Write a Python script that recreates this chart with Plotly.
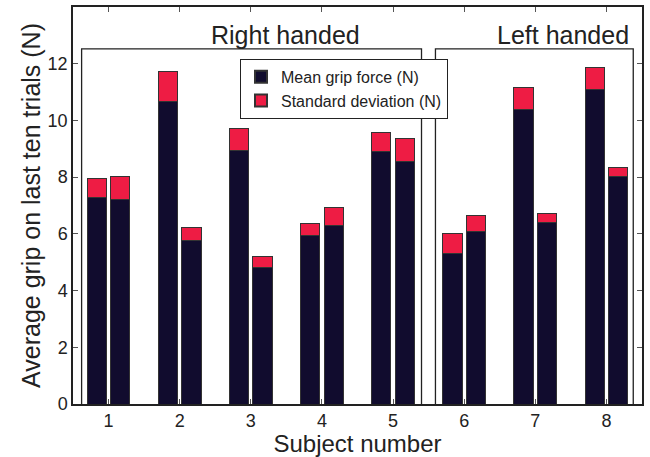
import plotly.graph_objects as go

subjects = [1, 2, 3, 4, 5, 6, 7, 8]
mean_a = [7.27, 10.66, 8.93, 5.93, 8.89, 5.30, 10.39, 11.10]
total_a = [7.96, 11.71, 9.70, 6.37, 9.59, 6.03, 11.16, 11.88]
mean_b = [7.20, 5.78, 4.81, 6.31, 8.55, 6.07, 6.39, 8.02]
total_b = [8.02, 6.21, 5.19, 6.94, 9.35, 6.63, 6.72, 8.33]
tick_labels = ["1", "2", "3", "4", "5", "6", "7", "8"]

NAVY = "#110c2e"
RED = "#ee1c44"
FONT = "Liberation Sans, Arial, sans-serif"

off = 0.165
bw = 0.27
xs = [s - off for s in subjects] + [s + off for s in subjects]
means = mean_a + mean_b
sds = [t - m for t, m in zip(total_a, mean_a)] + [t - m for t, m in zip(total_b, mean_b)]

fig = go.Figure()
fig.add_trace(go.Bar(x=xs, y=means, width=bw, name="Mean grip force (N)",
                     marker=dict(color=NAVY, line=dict(color="#333333", width=1))))
fig.add_trace(go.Bar(x=xs, y=sds, width=bw, name="Standard deviation (N)",
                     marker=dict(color=RED, line=dict(color="#333333", width=1))))

# group boxes
box_top = 12.52
fig.add_shape(type="path", path=f"M 0.621 0 L 0.621 {box_top} L 5.40 {box_top} L 5.40 0",
              xref="x", yref="y", line=dict(color="#222222", width=1.3))
fig.add_shape(type="path", path=f"M 5.596 0 L 5.596 {box_top} L 8.377 {box_top} L 8.377 0",
              xref="x", yref="y", line=dict(color="#222222", width=1.3))
fig.add_annotation(x=4.56, y=box_top, xref="x", yref="y", text="Right handed", showarrow=False,
                   xanchor="right", yanchor="bottom", yshift=-2,
                   font=dict(family=FONT, size=25, color="#222222"))
fig.add_annotation(x=8.35, y=box_top, xref="x", yref="y", text="Left handed", showarrow=False,
                   xanchor="right", yanchor="bottom", yshift=-2,
                   font=dict(family=FONT, size=25, color="#222222"))

axis_common = dict(showline=True, linecolor="#222222", linewidth=1.5, mirror="ticks",
                   ticks="inside", ticklen=5, tickcolor="#555555", showgrid=False, zeroline=False,
                   tickfont=dict(family=FONT, size=18, color="#222222"))

fig.update_layout(
    width=650, height=457,
    margin=dict(l=73, r=8, t=5, b=53),
    barmode="stack",
    plot_bgcolor="white", paper_bgcolor="white",
    font=dict(family=FONT, color="#222222"),
    xaxis=dict(range=[0.5, 8.5], tickvals=subjects, ticktext=tick_labels,
               title=dict(text="Subject number", font=dict(family=FONT, size=24), standoff=0),
               **axis_common),
    yaxis=dict(range=[0, 14], tickvals=[0, 2, 4, 6, 8, 10, 12],
               title=dict(text="Average grip on last ten trials (N)", font=dict(family=FONT, size=25),
                          standoff=0),
               **axis_common),
    legend=dict(x=0.2935, y=0.8697, xanchor="left", yanchor="top",
                bgcolor="white", bordercolor="#222222", borderwidth=1,
                font=dict(family=FONT, size=16, color="#222222"),
                traceorder="normal", tracegroupgap=0, itemsizing="constant"),
    showlegend=True,
)

fig.write_html("out.html")
